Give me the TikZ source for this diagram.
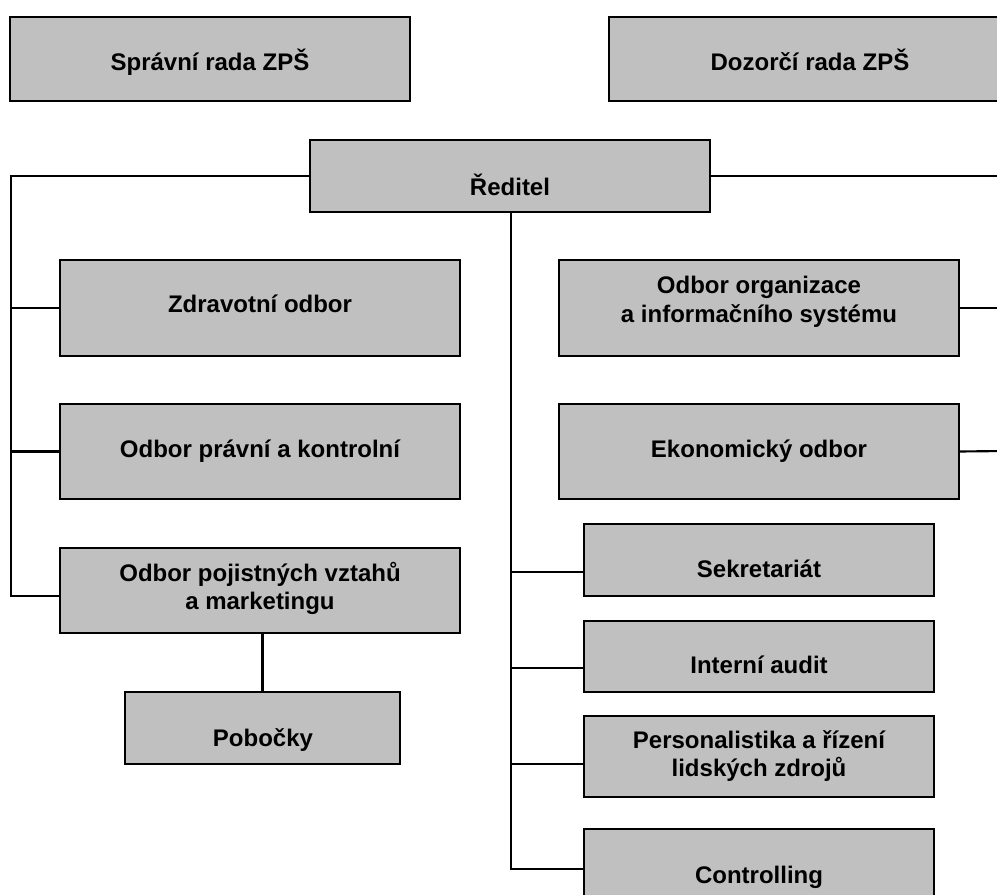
\documentclass[tikz,border=0pt]{standalone}
\usepackage{fontspec}
\setmainfont{Liberation Sans}
\definecolor{boxgray}{HTML}{C0C0C0}
\begin{document}
\begin{tikzpicture}[x=0.75pt,y=-0.75pt,
  box/.style={draw=black, fill=boxgray, line width=1.6pt, inner sep=0pt},
  lbl/.style={font=\fontsize{18}{21}\selectfont\bfseries, align=center, anchor=base, inner sep=0pt},
  conn/.style={line width=1.6pt}]
\useasboundingbox (0,0) rectangle (997,895);
\clip (0,0) rectangle (997,895);
% connectors (drawn first, under the boxes)
\coordinate (ltop) at (11,176);
\coordinate (lbot) at (11,596);
\coordinate (rend) at (1005,176);
\coordinate (rorg) at (1005,308);
\coordinate (reko) at (1005,451);
\coordinate (t1) at (511,572);
\coordinate (t2) at (511,668);
\coordinate (t3) at (511,764);
\coordinate (t4) at (511,869);
% boxes
\node[box, minimum width=300pt, minimum height=63pt] (sr) at (210,59) {};
\node[box, minimum width=301.5pt, minimum height=63pt] (dr) at (810,59) {};
\node[box, minimum width=300pt, minimum height=54pt] (red) at (510,176) {};
\node[box, minimum width=300pt, minimum height=72pt] (zdr) at (260,308) {};
\node[box, minimum width=300pt, minimum height=71.25pt] (prav) at (260,451.5) {};
\node[box, minimum width=300pt, minimum height=63.75pt] (poj) at (260,590.5) {};
\node[box, minimum width=206.25pt, minimum height=54pt] (pob) at (262.5,728) {};
\node[box, minimum width=300pt, minimum height=72pt] (org) at (759,308) {};
\node[box, minimum width=300pt, minimum height=71.25pt] (eko) at (759,451.5) {};
\node[box, minimum width=262.5pt, minimum height=54pt] (sek) at (759,560) {};
\node[box, minimum width=262.5pt, minimum height=53.25pt] (int) at (759,656.5) {};
\node[box, minimum width=262.5pt, minimum height=60.75pt] (per) at (759,756.5) {};
\node[box, minimum width=262.5pt, minimum height=66pt] (con) at (759,873) {};
% labels
\node[lbl] (tsr) at (210,71) {Správní rada ZPŠ};
\node[lbl] (tdr) at (810,71) {Dozorčí rada ZPŠ};
\node[lbl] (tred) at (510,196) {Ředitel};
\node[lbl] (tzdr) at (260,313) {Zdravotní odbor};
\node[lbl] (tprav) at (260,457) {Odbor právní a kontrolní};
\node[lbl] (tpoj) at (260,609) {Odbor pojistných vztahů\\a marketingu};
\node[lbl] (tpob) at (263,746) {Pobočky};
\node[lbl] (torg) at (759,322) {Odbor organizace\\a informačního systému};
\node[lbl] (teko) at (759,457) {Ekonomický odbor};
\node[lbl] (tsek) at (759,577) {Sekretariát};
\node[lbl] (tint) at (759,673) {Interní audit};
\node[lbl] (tper) at (759,776) {Personalistika a řízení\\lidských zdrojů};
\node[lbl] (tcon) at (759,883) {Controlling};
% connectors
\draw[conn] (red.west) -- (ltop) -- (lbot) -- (lbot -| poj.west);
\draw[conn] (ltop |- zdr.west) -- (zdr.west);
\draw[conn] (ltop |- prav.west) -- (prav.west);
\draw[conn] (red.east) -- (rend);
\draw[conn] (org.east) -- (rorg);
\draw[conn] (eko.east) -- (reko);
\draw[conn] (t1 |- red.south) -- (t4) -- (t4 -| con.west);
\draw[conn] (t1) -- (t1 -| sek.west);
\draw[conn] (t2) -- (t2 -| int.west);
\draw[conn] (t3) -- (t3 -| per.west);
\draw[conn] (pob.north |- poj.south) -- (pob.north);
\end{tikzpicture}
\end{document}
